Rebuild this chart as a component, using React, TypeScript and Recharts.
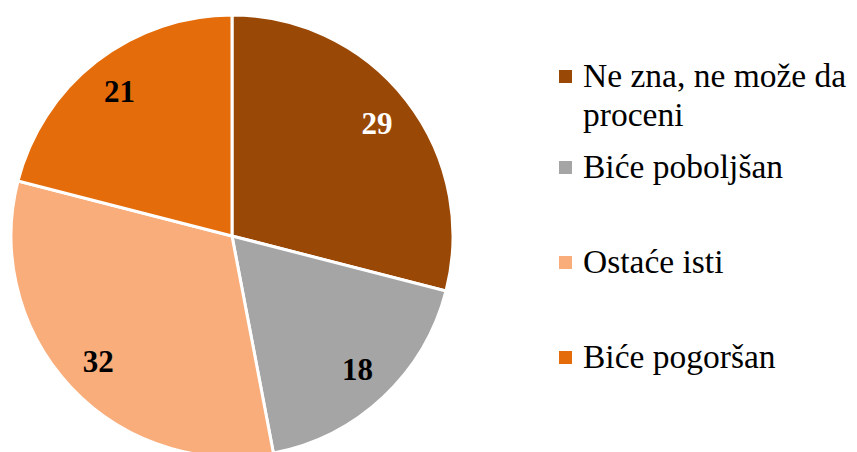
import React from "react";
import { PieChart, Pie, Cell, Legend } from "recharts";

const categories = ["Ne zna, ne može da proceni", "Biće poboljšan", "Ostaće isti", "Biće pogoršan"];
const values = [29, 18, 32, 21];
const colors = ["#9A4806", "#A5A5A5", "#F8AD7B", "#E46C0A"];
const labelColors = ["#FFFFFF", "#000000", "#000000", "#000000"];

const data = categories.map((name, i) => ({ name, value: values[i] }));

const RAD = Math.PI / 180;
const FONT = "'Liberation Serif', 'DejaVu Serif', serif";

const renderLabel = (props: any) => {
  const { cx, cy, midAngle, outerRadius, index, value } = props;
  const r = outerRadius * 0.83;
  const x = cx + r * Math.cos(-midAngle * RAD);
  const y = cy + r * Math.sin(-midAngle * RAD);
  return (
    <text
      x={x}
      y={y}
      fill={labelColors[index]}
      textAnchor="middle"
      dominantBaseline="central"
      fontFamily={FONT}
      fontWeight="bold"
      fontSize={31}
    >
      {value}
    </text>
  );
};

// legend rows: y of marker centre
const legendRows = [77, 168, 263, 358];

const renderLegend = () => (
  <div style={{ position: "relative", width: 857, height: 452, fontFamily: FONT, fontSize: 33.5, color: "#000" }}>
    {categories.map((c, i) => {
      const lines = i === 0 ? ["Ne zna, ne može da", "proceni"] : [c];
      return (
        <div key={c}>
          <div
            style={{
              position: "absolute",
              left: 559,
              top: legendRows[i] - 7,
              width: 13,
              height: 13,
              background: colors[i],
            }}
          />
          {lines.map((t, j) => (
            <div
              key={t}
              style={{
                position: "absolute",
                left: 583,
                top: legendRows[i] - 21 + j * 39,
                lineHeight: "39px",
                whiteSpace: "nowrap",
              }}
            >
              {t}
            </div>
          ))}
        </div>
      );
    })}
  </div>
);

export default function App() {
  return (
    <div style={{ position: "absolute", left: 0, top: 0, background: "#fff" }}>
      <PieChart width={857} height={452} margin={{ top: 0, right: 0, bottom: 0, left: 0 }}>
        <Pie
          data={data}
          dataKey="value"
          nameKey="name"
          cx={232}
          cy={236}
          outerRadius={221}
          startAngle={90}
          endAngle={-270}
          stroke="#FFFFFF"
          strokeWidth={3}
          label={renderLabel}
          labelLine={false}
          isAnimationActive={false}
        >
          {data.map((d, i) => (
            <Cell key={d.name} fill={colors[i]} />
          ))}
        </Pie>
        <Legend
          layout="vertical"
          align="right"
          verticalAlign="middle"
          content={renderLegend}
          wrapperStyle={{ left: 0, top: 0, width: 857, height: 452, pointerEvents: "none" }}
        />
      </PieChart>
    </div>
  );
}
